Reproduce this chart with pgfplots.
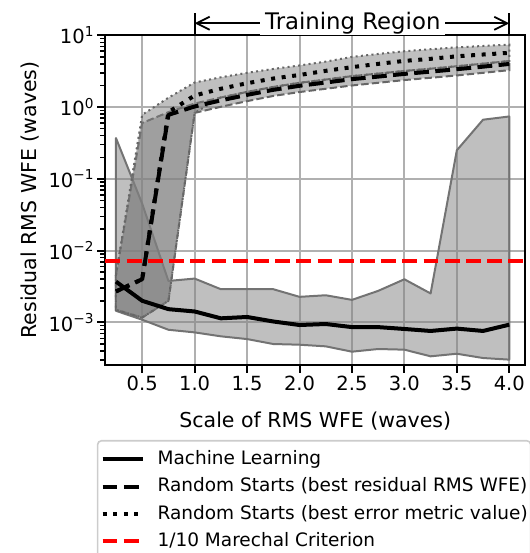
\documentclass[border=0pt]{standalone}
\usepackage{fontspec}
\setmainfont{DejaVu Sans}
\usepackage{pgfplots}
\pgfplotsset{compat=1.18}
\usetikzlibrary{arrows.meta}
\begin{document}
\begin{tikzpicture}
\begin{axis}[
  width=419.5pt, height=330pt, scale only axis,
  xmin=0.15, xmax=4.15, ymode=log, ymin=2.55e-4, ymax=10.1,
  clip=false,
  xtick={0.5,1,1.5,2,2.5,3,3.5,4},
  xticklabels={0.5,1.0,1.5,2.0,2.5,3.0,3.5,4.0},
  ytick={1e-3,1e-2,1e-1,1,10},
  yticklabels={10\textsuperscript{−3},10\textsuperscript{−2},10\textsuperscript{−1},10\textsuperscript{0},10\textsuperscript{1}},
  minor ytick={3e-4,4e-4,5e-4,6e-4,7e-4,8e-4,9e-4,2e-3,3e-3,4e-3,5e-3,6e-3,7e-3,8e-3,9e-3,2e-2,3e-2,4e-2,5e-2,6e-2,7e-2,8e-2,9e-2,0.2,0.3,0.4,0.5,0.6,0.7,0.8,0.9,2,3,4,5,6,7,8,9},
  tick align=outside, tick pos=left,
  major tick length=8pt, minor tick length=5pt,
  every major tick/.append style={line width=2pt, black},
  every minor tick/.append style={line width=1.5pt, black},
  grid=major, major grid style={line width=2pt, color=black!31},
  axis line style={line width=2pt},
  ticklabel style={font=\fontsize{19.5}{22}\selectfont},
  label style={font=\fontsize{20.5}{24}\selectfont},
  xlabel={Scale of RMS WFE (waves)},
  ylabel={Residual RMS WFE (waves)},
  xlabel style={at={(axis description cs:0.5,-0.19)}, anchor=base},
  ylabel style={at={(axis description cs:-0.1654,0.5)}, anchor=base},
  legend style={at={(-0.0208,-0.227)}, anchor=north west,
    draw=black!20, line width=1.6pt, rounded corners=4pt,
    font=\fontsize{18.5}{21}\selectfont,
    inner xsep=3pt, inner ysep=9.5pt, row sep=9.4pt, column sep=0pt,
    nodes={inner sep=0pt, text height=14pt, text depth=4pt}},
  legend cell align=left,
  legend image code/.code={\draw[#1] (0pt,0pt) -- (40pt,0pt); \path (53pt,0pt);},
]
% Machine learning spread
\addplot[forget plot, fill=gray, fill opacity=0.5, draw=black!55, line width=2pt, line join=round] coordinates {
(0.25,0.37) (0.5,0.045) (0.75,3.78e-3) (1.0,4.08e-3) (1.25,2.9e-3) (1.5,2.9e-3) (1.75,2.9e-3) (2.0,2.27e-3) (2.25,2.39e-3) (2.5,2.06e-3) (2.75,2.75e-3) (3.0,3.99e-3) (3.25,2.53e-3) (3.5,0.25) (3.75,0.667) (4.0,0.74)
(4.0,3.03e-4) (3.75,3.19e-4) (3.5,3.66e-4) (3.25,3.37e-4) (3.0,4.17e-4) (2.75,4.26e-4) (2.5,3.91e-4) (2.25,4.64e-4) (2.0,4.89e-4) (1.75,5.0e-4) (1.5,5.86e-4) (1.25,6.4e-4) (1.0,7.26e-4) (0.75,7.9e-4) (0.5,1.09e-3) (0.25,1.45e-3)
} -- cycle;
% Random starts (best residual) spread
\addplot[forget plot, fill=gray, fill opacity=0.5, draw=black!60, line width=2pt, dash pattern=on 7.4pt off 3.2pt] coordinates {
(0.25,4.6e-3) (0.5,0.6) (0.75,0.85) (1.0,1.12) (1.25,1.36) (1.5,1.63) (1.75,1.91) (2.0,2.18) (2.25,2.42) (2.5,2.70) (2.75,2.93) (3.0,3.19) (3.25,3.43) (3.5,3.71) (3.75,4.03) (4.0,4.39)
(4.0,3.27) (3.75,3.0) (3.5,2.76) (3.25,2.56) (3.0,2.38) (2.75,2.18) (2.5,2.0) (2.25,1.80) (2.0,1.62) (1.75,1.43) (1.5,1.21) (1.25,1.01) (1.0,0.83) (0.75,2.0e-3) (0.5,1.17e-3) (0.25,1.5e-3)
} -- cycle;
% Random starts (best metric) spread
\addplot[forget plot, fill=gray, fill opacity=0.5, draw=black!60, line width=2pt, dash pattern=on 2pt off 3.3pt] coordinates {
(0.25,4.6e-3) (0.5,0.78) (0.75,1.35) (1.0,2.2) (1.25,2.6) (1.5,3.0) (1.75,3.4) (2.0,3.8) (2.25,4.3) (2.5,5.0) (2.75,5.5) (3.0,6.0) (3.25,6.4) (3.5,6.8) (3.75,7.1) (4.0,7.4)
(4.0,4.39) (3.75,4.03) (3.5,3.71) (3.25,3.43) (3.0,3.19) (2.75,2.93) (2.5,2.70) (2.25,2.42) (2.0,2.18) (1.75,1.91) (1.5,1.63) (1.25,1.36) (1.0,0.83) (0.75,2.0e-3) (0.5,1.17e-3) (0.25,1.5e-3)
} -- cycle;
% lines
\addplot[black, line width=4pt, line join=round] coordinates {
(0.25,3.7e-3) (0.5,2.0e-3) (0.75,1.53e-3) (1.0,1.42e-3) (1.25,1.14e-3) (1.5,1.19e-3) (1.75,1.03e-3) (2.0,9.2e-4) (2.25,9.5e-4) (2.5,8.6e-4) (2.75,8.6e-4) (3.0,8.1e-4) (3.25,7.6e-4) (3.5,8.2e-4) (3.75,7.6e-4) (4.0,9.3e-4)
};
\addlegendentry{Machine Learning}
\addplot[black, line width=4pt, line join=round, dash pattern=on 14.8pt off 6.4pt] coordinates {
(0.25,2.7e-3) (0.5,4.0e-3) (0.75,0.78) (1.0,1.02) (1.25,1.24) (1.5,1.48) (1.75,1.74) (2.0,1.98) (2.25,2.20) (2.5,2.45) (2.75,2.66) (3.0,2.90) (3.25,3.12) (3.5,3.37) (3.75,3.66) (4.0,3.99)
};
\addlegendentry{Random Starts (best residual RMS WFE)}
\addplot[black, line width=4pt, line join=round, dash pattern=on 4pt off 6.6pt] coordinates {
(0.25,2.7e-3) (0.5,4.0e-3) (0.75,0.85) (1.0,1.45) (1.25,1.8) (1.5,2.15) (1.75,2.5) (2.0,2.8) (2.25,3.2) (2.5,3.6) (2.75,4.0) (3.0,4.4) (3.25,4.7) (3.5,5.1) (3.75,5.4) (4.0,5.7)
};
\addlegendentry{Random Starts (best error metric value)}
\addplot[red, line width=4pt, dash pattern=on 14.8pt off 6.4pt] coordinates {
(0.15,0.00714) (4.15,0.00714)
};
\addlegendentry{1/10 Marechal Criterion}
% Training region annotation
\draw[line width=1.8pt] (rel axis cs:0.2125,1) -- (rel axis cs:0.2125,1.0667);
\draw[line width=1.8pt] (rel axis cs:0.9625,1) -- (rel axis cs:0.9625,1.0667);
\draw[line width=1.8pt, {Straight Barb[length=13pt,width=13pt]}-{Straight Barb[length=13pt,width=13pt]}] (rel axis cs:0.2125,1.0355) -- (rel axis cs:0.9625,1.0355);
\node[fill=white, inner xsep=5pt, inner ysep=0.5pt, font=\fontsize{22.8}{26}\selectfont] at (rel axis cs:0.5895,1.0355) {Training Region};
\end{axis}
\pgfresetboundingbox
\path[use as bounding box] (-105.5pt,-188pt) rectangle (423.5pt,365pt);
\end{tikzpicture}
\end{document}
